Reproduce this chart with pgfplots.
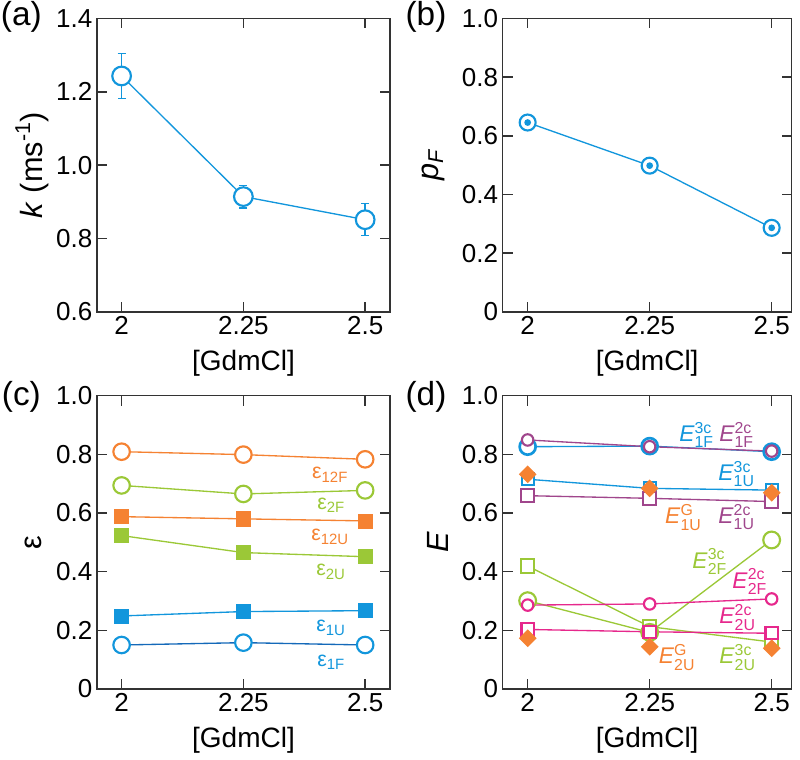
\documentclass[border=0pt]{standalone}
\usepackage{fontspec}
\setmainfont{Liberation Sans}
\usepackage{amsmath}
\usepackage{pgfplots}
\pgfplotsset{compat=1.18}

\definecolor{cblue}{RGB}{18,150,220}
\definecolor{cblued}{RGB}{20,105,185}
\definecolor{corange}{RGB}{245,130,50}
\definecolor{cgreen}{RGB}{155,200,55}
\definecolor{cpurple}{RGB}{160,70,140}
\definecolor{cpink}{RGB}{230,40,140}

\newcommand{\lab}[2]{\textit{E}$^{\text{#2}}_{\text{#1}}$}

\pgfplotsset{
  panel/.style={
    scale only axis,
    axis line style={line width=1.2pt, black!80},
    tick style={line width=1.2pt, black!80},
    major tick length=7.5pt,
    tick align=inside,
    xtick={2,2.25,2.5},
    xticklabels={2,2.25,2.5},
    tick label style={font=\fontsize{19.5}{22}\selectfont},
    /pgf/number format/assume math mode=true,
    xlabel={[GdmCl]},
    xlabel style={font=\fontsize{21}{24}\selectfont, at={(axis description cs:0.5,-0.175)}, anchor=center},
    ylabel style={font=\fontsize{23}{26}\selectfont, anchor=center},
    every axis plot/.append style={line width=1pt},
  },
  opn/.style={mark=*, mark options={fill=white, line width=1.6pt}},
  sqf/.style={mark=square*, mark options={line width=0.5pt}},
  sqo/.style={mark=square*, mark options={fill=white, line width=1.6pt}},
}

\begin{document}
\begin{tikzpicture}
\path[use as bounding box] (0,0) rectangle (600pt,570pt);

% (a)
\begin{axis}[panel, at={(72.75pt,336.2pt)}, anchor=south west,
  width=219.75pt, height=220pt,
  xmin=1.9495, xmax=2.551, ymin=0.6, ymax=1.4,
  ytick={0.6,0.8,1.0,1.2,1.4}, yticklabels={0.6,0.8,1.0,1.2,1.4},
  ylabel={\textit{k} (ms\textsuperscript{-1})},
  ylabel style={at={(axis description cs:-0.222,0.5)}}]
\addplot[cblue, error bars/.cd, y dir=both, y explicit,
  error bar style={line width=1pt, cblue},
  error mark options={cblue, line width=1pt, mark size=3pt, rotate=90}]
  coordinates {(2,1.243) +- (0,0.062) (2.25,0.914) +- (0,0.031) (2.5,0.851) +- (0,0.044)};
\addplot[cblue, only marks, opn, mark size=7pt]
  coordinates {(2,1.243) (2.25,0.914) (2.5,0.851)};
\end{axis}

% (b)
\begin{axis}[panel, at={(377pt,336.2pt)}, anchor=south west,
  width=216.75pt, height=220pt,
  xmin=1.9488, xmax=2.541, ymin=0, ymax=1,
  ytick={0,0.2,0.4,0.6,0.8,1}, yticklabels={0,0.2,0.4,0.6,0.8,1.0},
  ylabel={\textit{p}\textsubscript{\textit{F}}},
  ylabel style={at={(axis description cs:-0.241,0.5)}}]
\addplot[cblue, opn, mark size=6pt]
  coordinates {(2,0.645) (2.25,0.498) (2.5,0.286)};
\addplot[cblue, only marks, mark=none, error bars/.cd, y dir=both, y explicit,
  error bar style={line width=0.6pt, cblue},
  error mark options={cblue, line width=0.6pt, mark size=1.8pt, rotate=90}]
  coordinates {(2,0.645) +- (0,0.013) (2.25,0.498) +- (0,0.011) (2.5,0.286) +- (0,0.013)};
\end{axis}

% (c)
\begin{axis}[panel, at={(72.75pt,53.25pt)}, anchor=south west,
  width=219.75pt, height=220pt,
  xmin=1.9495, xmax=2.551, ymin=0, ymax=1,
  ytick={0,0.2,0.4,0.6,0.8,1}, yticklabels={0,0.2,0.4,0.6,0.8,1.0},
  ylabel={ε},
  ylabel style={at={(axis description cs:-0.218,0.5)}}]
\addplot[corange, opn, mark size=6.2pt] coordinates {(2,0.809) (2.25,0.799) (2.5,0.783)};
\addplot[cgreen, opn, mark size=6.2pt] coordinates {(2,0.694) (2.25,0.665) (2.5,0.677)};
\addplot[corange, sqf, mark size=5.3pt] coordinates {(2,0.5875) (2.25,0.580) (2.5,0.573)};
\addplot[cgreen, sqf, mark size=5.3pt] coordinates {(2,0.523) (2.25,0.465) (2.5,0.451)};
\addplot[cblue, sqf, mark size=5.3pt] coordinates {(2,0.249) (2.25,0.264) (2.5,0.267)};
\addplot[cblued, mark=*, mark options={draw=cblue, fill=white, line width=1.6pt}, mark size=6.2pt]
  coordinates {(2,0.150) (2.25,0.158) (2.5,0.150)};
\begin{scope}[every node/.style={font=\fontsize{16}{19}\selectfont}]
\node[text=corange] at (axis cs:2.428,0.730) {ε$_{\text{12F}}$};
\node[text=cgreen]  at (axis cs:2.430,0.627) {ε$_{\text{2F}}$};
\node[text=corange] at (axis cs:2.428,0.518) {ε$_{\text{12U}}$};
\node[text=cgreen]  at (axis cs:2.430,0.399) {ε$_{\text{2U}}$};
\node[text=cblue]   at (axis cs:2.430,0.208) {ε$_{\text{1U}}$};
\node[text=cblue]   at (axis cs:2.430,0.092) {ε$_{\text{1F}}$};
\end{scope}
\end{axis}

% (d)
\begin{axis}[panel, at={(377pt,53.25pt)}, anchor=south west,
  width=216.75pt, height=220pt,
  xmin=1.9488, xmax=2.541, ymin=0, ymax=1,
  ytick={0,0.2,0.4,0.6,0.8,1}, yticklabels={0,0.2,0.4,0.6,0.8,1.0},
  ylabel={\textit{E}},
  ylabel style={at={(axis description cs:-0.224,0.5)}}]
\addplot[cblue, mark=*, mark options={fill=white, line width=2pt}, mark size=6pt]
  coordinates {(2,0.826) (2.25,0.828) (2.5,0.809)};
\addplot[cpurple, opn, mark size=4.3pt]
  coordinates {(2,0.849) (2.25,0.826) (2.5,0.811)};
\addplot[cblue, sqo, mark size=4.5pt]
  coordinates {(2,0.715) (2.25,0.684) (2.5,0.678)};
\addplot[cpurple, sqo, mark size=4.7pt]
  coordinates {(2,0.659) (2.25,0.650) (2.5,0.639)};
\addplot[cgreen, sqo, mark size=5pt]
  coordinates {(2,0.419) (2.25,0.2125) (2.5,0.160)};
\addplot[cgreen, opn, mark size=6.3pt]
  coordinates {(2,0.301) (2.25,0.193) (2.5,0.508)};
\addplot[cpink, sqo, mark size=4.6pt]
  coordinates {(2,0.203) (2.25,0.195) (2.5,0.190)};
\addplot[cpink, opn, mark size=4.3pt]
  coordinates {(2,0.286) (2.25,0.290) (2.5,0.307)};
\addplot[corange, only marks, mark=square*, mark options={rotate=45}, mark size=4.2pt]
  coordinates {(2,0.732) (2.25,0.684) (2.5,0.669)};
\addplot[corange, only marks, mark=square*, mark options={rotate=45}, mark size=4.2pt]
  coordinates {(2,0.173) (2.25,0.144) (2.5,0.139)};
\begin{scope}[every node/.style={font=\fontsize{17}{20}\selectfont}]
\node[text=cblue]   at (axis cs:2.346,0.866) {\lab{1F}{3c}};
\node[text=cpurple] at (axis cs:2.428,0.866) {\lab{1F}{2c}};
\node[text=cblue]   at (axis cs:2.428,0.733) {\lab{1U}{3c}};
\node[text=corange] at (axis cs:2.319,0.585) {\lab{1U}{G}};
\node[text=cpurple] at (axis cs:2.428,0.586) {\lab{1U}{2c}};
\node[text=cgreen]  at (axis cs:2.373,0.434) {\lab{2F}{3c}};
\node[text=cpink]   at (axis cs:2.455,0.366) {\lab{2F}{2c}};
\node[text=cpink]   at (axis cs:2.430,0.244) {\lab{2U}{2c}};
\node[text=corange] at (axis cs:2.306,0.108) {\lab{2U}{G}};
\node[text=cgreen]  at (axis cs:2.430,0.108) {\lab{2U}{3c}};
\end{scope}
\end{axis}

\begin{scope}[every node/.style={font=\fontsize{25}{28}\selectfont}]
\node at (16pt,557.25pt) {(a)};
\node at (319.5pt,557.25pt) {(b)};
\node at (16pt,272.25pt) {(c)};
\node at (319.5pt,272.25pt) {(d)};
\end{scope}
\end{tikzpicture}
\end{document}
